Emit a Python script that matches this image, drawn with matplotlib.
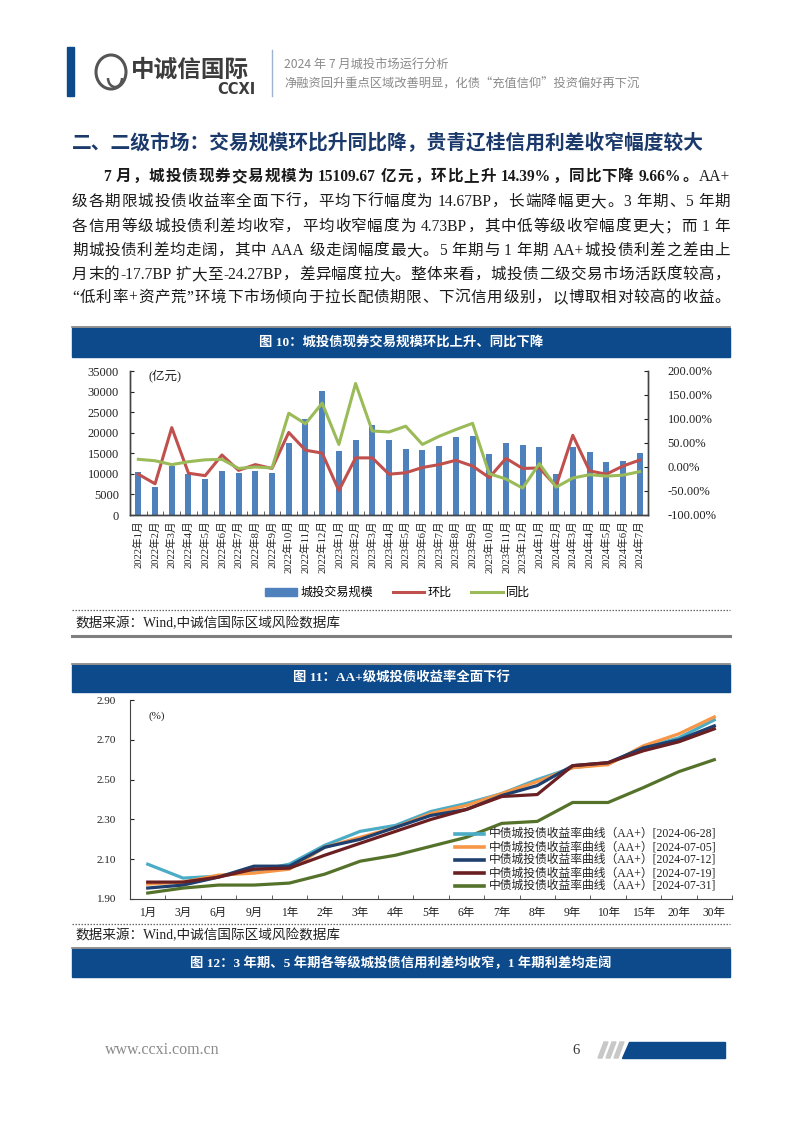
import re
import matplotlib
matplotlib.use('Agg')
import matplotlib.pyplot as plt
from matplotlib.patches import Rectangle, Polygon, Ellipse, Arc
from matplotlib.lines import Line2D
from matplotlib.ticker import FuncFormatter, FixedLocator
import numpy as np

W, H = 802, 1133
def fx(x): return x / W
def fy(y): return 1 - y / H

SERIF = ['Liberation Serif', 'Noto Sans CJK SC']
SANS = ['Noto Sans CJK SC', 'DejaVu Sans']
plt.rcParams['font.family'] = SERIF

# ---------------- data: figure 10 ----------------
months = ['2022年1月', '2022年2月', '2022年3月', '2022年4月', '2022年5月', '2022年6月',
          '2022年7月', '2022年8月', '2022年9月', '2022年10月', '2022年11月', '2022年12月',
          '2023年1月', '2023年2月', '2023年3月', '2023年4月', '2023年5月', '2023年6月',
          '2023年7月', '2023年8月', '2023年9月', '2023年10月', '2023年11月', '2023年12月',
          '2024年1月', '2024年2月', '2024年3月', '2024年4月', '2024年5月', '2024年6月',
          '2024年7月']
volume = [10500, 6700, 12000, 10000, 8700, 10800, 10100, 10600, 10200, 17400, 23400, 30200,
          15500, 18300, 21800, 18300, 16100, 15900, 16700, 18900, 19300, 14900, 17600, 17000,
          16600, 10000, 16600, 15300, 12900, 13200, 15110]
mom = [-15, -35, 82, -13, -18, 25, -7, 5, -3, 72, 35, 29,
       -49, 19, 19, -15, -12, -1, 5, 14, 2, -22, 18, -3,
       -2, -40, 66, -8, -15, 2, 14.39]
yoy = [16, 13, 5, 11, 15, 16, -3, 0, -2, 112, 90, 133,
       47, 174, 75, 73, 85, 47, 64, 78, 91, -14, -25, -44,
       7, -42, -23, -16, -19, -17, -9.66]
left_ticks = [0, 5000, 10000, 15000, 20000, 25000, 30000, 35000]
right_ticks = [-100, -50, 0, 50, 100, 150, 200]
legend1 = ['城投交易规模', '环比', '同比']

# ---------------- data: figure 11 ----------------
tenors = ['1月', '3月', '6月', '9月', '1年', '2年', '3年', '4年', '5年', '6年', '7年', '8年',
          '9年', '10年', '15年', '20年', '30年']
y_0628 = [2.075, 2.005, 2.015, 2.04, 2.075, 2.17, 2.24, 2.27, 2.34, 2.38, 2.43, 2.50,
          2.56, 2.58, 2.66, 2.71, 2.80]
y_0705 = [1.975, 1.985, 2.02, 2.03, 2.05, 2.16, 2.21, 2.26, 2.33, 2.37, 2.43, 2.49,
          2.56, 2.575, 2.67, 2.73, 2.815]
y_0712 = [1.955, 1.97, 2.01, 2.065, 2.065, 2.16, 2.20, 2.26, 2.32, 2.35, 2.42, 2.47,
          2.57, 2.585, 2.66, 2.70, 2.77]
y_0719 = [1.985, 1.985, 2.01, 2.05, 2.055, 2.12, 2.18, 2.24, 2.30, 2.35, 2.415, 2.425,
          2.57, 2.585, 2.645, 2.69, 2.755]
y_0731 = [1.93, 1.955, 1.97, 1.97, 1.98, 2.025, 2.09, 2.12, 2.165, 2.21, 2.28, 2.29,
          2.385, 2.385, 2.46, 2.54, 2.60]
curve_dates = ['2024-06-28', '2024-07-05', '2024-07-12', '2024-07-19', '2024-07-31']
curve_series = [y_0628, y_0705, y_0712, y_0719, y_0731]
curve_colors = ['#4BACC6', '#F79646', '#1F3F6E', '#6A1F22', '#55722A']
yield_ticks = [1.90, 2.10, 2.30, 2.50, 2.70, 2.90]

BLUE = '#0D4A8C'

fig = plt.figure(figsize=(W / 100, H / 100), dpi=100)
fig.patch.set_facecolor('white')
renderer = fig.canvas.get_renderer()

# ---------------- header ----------------
fig.add_artist(Rectangle((fx(67), fy(96)), 7 / W, 49 / H, color=BLUE, transform=fig.transFigure))
fig.add_artist(Ellipse((fx(111), fy(72)), 30 / W, 34 / H, fill=False, lw=2.2, ec='#555555',
                       transform=fig.transFigure))
fig.add_artist(Arc((fx(115), fy(78)), 14 / W, 18 / H, theta1=180, theta2=360, lw=1.8,
                   ec='#555555', transform=fig.transFigure))
fig.text(fx(131), fy(70), '中诚信国际', fontsize=17, fontweight='bold', color='#3c3c3c',
         family=SANS, va='center', ha='left')
fig.text(fx(256), fy(90), 'CCXI', fontsize=10.5, fontweight='bold', color='#3c3c3c',
         family=['DejaVu Sans'], va='center', ha='right')
fig.add_artist(Line2D([fx(272), fx(272)], [fy(50), fy(96)], color='#9DB3CF', lw=1,
                      transform=fig.transFigure))
fig.text(fx(284), fy(64), '2024 年 7 月城投市场运行分析', fontsize=8.8, color='#8a8a8a',
         family=SANS, va='center')
fig.text(fx(284), fy(84), '净融资回升重点区域改善明显，化债“充值信仰”投资偏好再下沉', fontsize=8.8,
         color='#8a8a8a', family=SANS, va='center')

# ---------------- section title ----------------
fig.text(fx(72), fy(143), '二、二级市场：交易规模环比升同比降，贵青辽桂信用利差收窄幅度较大',
         fontsize=14.2, fontweight='bold', color='#1B3A6B', family=SANS, va='center')

# ---------------- paragraph (justified) ----------------
para = [
    (103, [('7 月，城投债现券交易规模为 15109.67 亿元，环比上升 14.39%，同比下降 9.66%。', 'bold'),
           ('AA+', 'normal')]),
    (72, [('级各期限城投债收益率全面下行，平均下行幅度为 14.67BP，长端降幅更大。3 年期、5 年期', 'normal')]),
    (72, [('各信用等级城投债利差均收窄，平均收窄幅度为 4.73BP，其中低等级收窄幅度更大；而 1 年', 'normal')]),
    (72, [('期城投债利差均走阔，其中 AAA 级走阔幅度最大。5 年期与 1 年期 AA+城投债利差之差由上', 'normal')]),
    (72, [('月末的-17.7BP 扩大至-24.27BP，差异幅度拉大。整体来看，城投债二级交易市场活跃度较高，', 'normal')]),
    (72, [('“低利率+资产荒”环境下市场倾向于拉长配债期限、下沉信用级别，以博取相对较高的收益。', 'normal')]),
]
line_y = [177, 202, 227, 251, 275, 298]
PFS = 11.2
for (x0, runs), yy in zip(para, line_y):
    toks = []
    for txt, wt in runs:
        for m in re.finditer(r'[A-Za-z0-9.%+\-]+|.', txt):
            toks.append((m.group(0), wt))
    arts = []
    widths = []
    for tok, wt in toks:
        t = fig.text(0, fy(yy), tok, fontsize=PFS, fontweight=wt, color='#1a1a1a',
                     family=SERIF, va='center', ha='left')
        if tok == ' ':
            w = 3.2
        else:
            w = t.get_window_extent(renderer).width
        arts.append(t)
        widths.append(w)
    total = sum(widths)
    gap = (730 - x0 - total) / max(len(toks) - 1, 1)
    xc = x0
    for t, w in zip(arts, widths):
        t.set_x(fx(xc))
        xc += w + gap

# ---------------- title bars ----------------
def title_bar(y0, y1, text, size=9.6):
    fig.add_artist(Line2D([fx(72), fx(730)], [fy(y0 - 1), fy(y0 - 1)], color='#7f7f7f', lw=1.2,
                          transform=fig.transFigure))
    fig.add_artist(Rectangle((fx(72), fy(y1)), 658 / W, (y1 - y0) / H, color=BLUE,
                             transform=fig.transFigure))
    fig.text(fx(401), fy((y0 + y1) / 2), text, fontsize=size, fontweight='bold', color='white',
             family=SERIF, ha='center', va='center')

title_bar(328, 357, '图 10：城投债现券交易规模环比上升、同比下降')
title_bar(665, 692, '图 11：AA+级城投债收益率全面下行')
title_bar(949, 977, '图 12：3 年期、5 年期各等级城投债信用利差均收窄，1 年期利差均走阔')

# ---------------- figure 10 chart ----------------
ax1 = fig.add_axes([fx(130), fy(515), (648 - 130) / W, (515 - 371) / H])
x = np.arange(len(months))
ax1.bar(x, volume, width=0.36, color='#4F81BD', zorder=2)
ax1.set_xlim(-0.5, len(months) - 0.5)
ax1.set_ylim(0, 35000)
ax1.set_yticks(left_ticks)
ax1.set_xticks(x)
ax1.set_xticklabels(months, rotation=90, fontsize=7.7, family=SERIF, color='#222222')
ax1.xaxis.set_minor_locator(FixedLocator(np.arange(-0.5, len(months), 1.0)))
ax1.tick_params(axis='x', which='major', length=0, pad=4)
ax1.tick_params(axis='x', which='minor', length=3, direction='in', color='#444444')
ax1.tick_params(axis='y', direction='in', length=3, labelsize=9, colors='#222222', pad=8)
ax1.text(0.035, 0.965, '(亿元)', transform=ax1.transAxes, fontsize=9, family=SERIF,
         va='center', ha='left', color='#222222')
ax2 = ax1.twinx()
ax2.plot(x, mom, color='#C0504D', lw=2.2, zorder=3)
ax2.plot(x, yoy, color='#9BBB59', lw=2.2, zorder=4)
ax2.set_ylim(-100, 200)
ax2.set_yticks(right_ticks)
ax2.yaxis.set_major_formatter(FuncFormatter(lambda v, p: f'{v:.2f}%'))
ax2.tick_params(axis='y', direction='in', length=3, labelsize=9, colors='#222222', pad=14)
for a in (ax1, ax2):
    a.spines['top'].set_visible(False)
    for s in ('left', 'right', 'bottom'):
        a.spines[s].set_color('#444444')
        a.spines[s].set_linewidth(1)
    a.set_facecolor('none')
ax1.set_zorder(1)
ax2.set_zorder(2)

h_bar = Rectangle((0, 0), 1, 1, color='#4F81BD')
h_mom = Line2D([], [], color='#C0504D', lw=2.2)
h_yoy = Line2D([], [], color='#9BBB59', lw=2.2)
fig.legend([h_bar, h_mom, h_yoy], legend1, loc='center', bbox_to_anchor=(fx(398), fy(593)),
           ncol=3, frameon=False, prop={'family': SERIF, 'size': 8.7}, handlelength=2.6,
           handleheight=0.6, columnspacing=1.6, handletextpad=0.3)

# source 1
fig.add_artist(Line2D([fx(72), fx(730)], [fy(610), fy(610)], color='#666666', lw=0.9,
                      ls=(0, (1.2, 1.2)), transform=fig.transFigure))
fig.text(fx(75), fy(623), '数据来源：Wind,中诚信国际区域风险数据库', fontsize=9.8, family=SERIF,
         color='#222222', va='center')
fig.add_artist(Line2D([fx(72), fx(730)], [fy(636), fy(636)], color='#7f7f7f', lw=2.2,
                      transform=fig.transFigure))

# ---------------- figure 11 chart ----------------
ax3 = fig.add_axes([fx(130), fy(899), 602 / W, 199 / H])
xt = np.arange(len(tenors))
for ser, col in zip(curve_series, curve_colors):
    ax3.plot(xt, ser, color=col, lw=2.3)
ax3.set_xlim(-0.5, len(tenors) - 0.5)
ax3.set_ylim(1.90, 2.90)
ax3.set_yticks(yield_ticks)
ax3.yaxis.set_major_formatter(FuncFormatter(lambda v, p: f'{v:.2f}'))
ax3.set_xticks(xt)
ax3.set_xticklabels(tenors, fontsize=8.3, family=SERIF, color='#222222')
ax3.xaxis.set_minor_locator(FixedLocator(np.arange(-0.5, len(tenors), 1.0)))
ax3.tick_params(axis='x', which='major', length=0, pad=6)
ax3.tick_params(axis='x', which='minor', length=3, direction='in', color='#444444')
ax3.tick_params(axis='y', direction='in', length=3, labelsize=8, colors='#222222', pad=10)
ax3.spines['top'].set_visible(False)
ax3.spines['right'].set_visible(False)
ax3.spines['left'].set_color('#444444')
ax3.spines['bottom'].set_color('#444444')
ax3.text(0.03, 0.92, '(%)', transform=ax3.transAxes, fontsize=8, family=SERIF,
         va='center', ha='left', color='#222222')

# manual legend for figure 11 (tight rows like the reference)
leg_rows = [834, 847, 860, 873, 886]
for d, col, ry in zip(curve_dates, curve_colors, leg_rows):
    fig.add_artist(Line2D([fx(455), fx(484)], [fy(ry), fy(ry)], color=col, lw=2.6,
                          transform=fig.transFigure))
    fig.text(fx(489), fy(ry), f'中债城投债收益率曲线（AA+）[{d}]', fontsize=8.5, family=SERIF,
             color='#222222', va='center', ha='left')

fig.add_artist(Line2D([fx(72), fx(730)], [fy(924), fy(924)], color='#666666', lw=0.9,
                      ls=(0, (1.2, 1.2)), transform=fig.transFigure))
fig.text(fx(75), fy(935), '数据来源：Wind,中诚信国际区域风险数据库', fontsize=9.8, family=SERIF,
         color='#222222', va='center')

# ---------------- footer ----------------
fig.text(fx(105), fy(1050), 'www.ccxi.com.cn', fontsize=11.5, family=SERIF, color='#8a8a8a',
         va='center')
fig.text(fx(572), fy(1050), '6', fontsize=10.5, family=SERIF, color='#333333', va='center')
for i in range(3):
    x0 = 598 + i * 8
    fig.add_artist(Polygon([(fx(x0), fy(1058)), (fx(x0 + 4), fy(1058)), (fx(x0 + 10), fy(1042)),
                            (fx(x0 + 6), fy(1042))], closed=True, color='#c8c8c8',
                           transform=fig.transFigure))
fig.add_artist(Polygon([(fx(622), fy(1058)), (fx(725), fy(1058)), (fx(725), fy(1042)),
                        (fx(629), fy(1042))], closed=True, color=BLUE, transform=fig.transFigure))

fig.savefig('out.png', dpi=100, facecolor='white')
